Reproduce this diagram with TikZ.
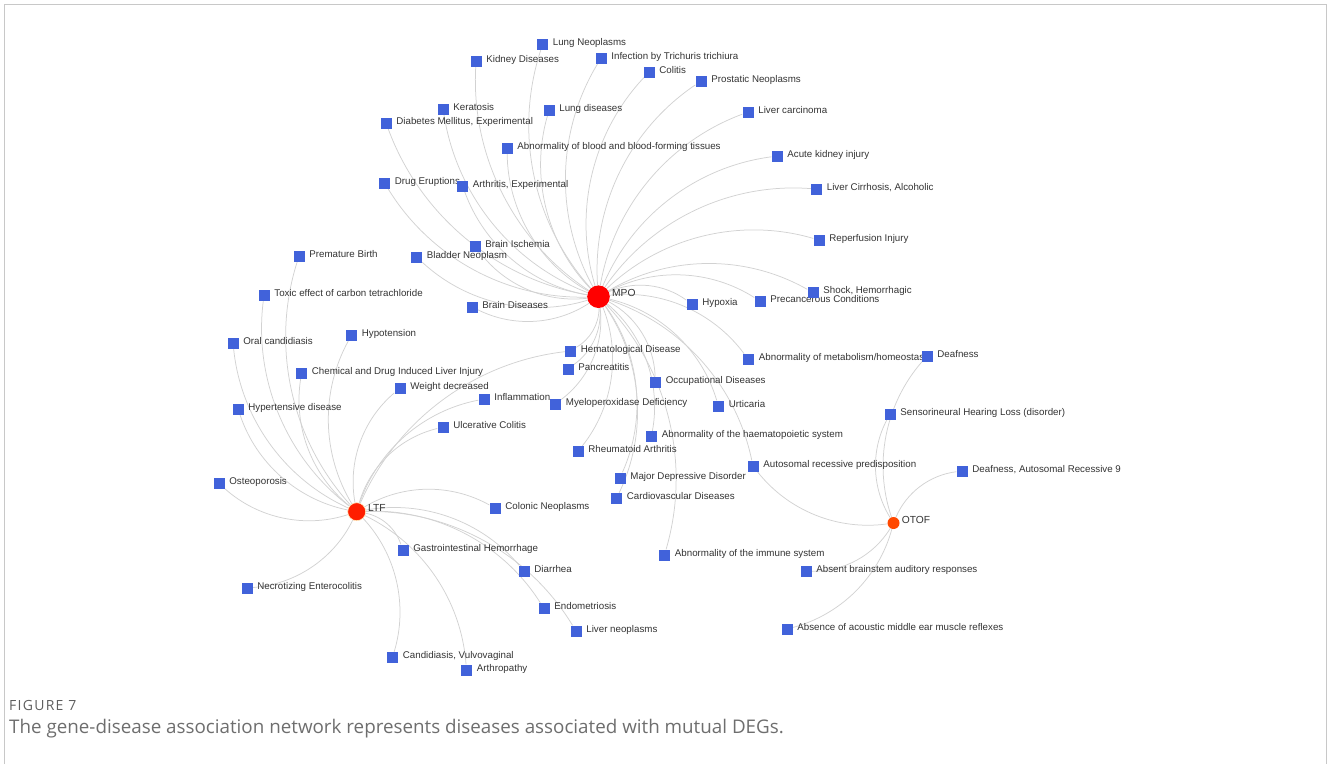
\documentclass[tikz,border=0pt]{standalone}
\usepackage{fontspec}
\setmainfont{Liberation Sans}
\newfontfamily\capfont{Open Sans}
\newfontfamily\fignofont[LetterSpace=9]{Open Sans}
\usetikzlibrary{backgrounds}
\definecolor{disblue}{RGB}{65,98,218}
\definecolor{ltfred}{RGB}{255,30,0}
\definecolor{otofred}{RGB}{255,72,0}
\definecolor{linkgrey}{RGB}{210,210,210}
\definecolor{labgrey}{RGB}{51,51,51}
\definecolor{framegrey}{RGB}{200,200,200}
\definecolor{capgrey}{RGB}{110,110,110}

\begin{document}
\begin{tikzpicture}[x=1pt,y=-1pt,
        dis/.style={rectangle,fill=disblue,minimum size=11pt,inner sep=0pt},
        gene/.style={circle,inner sep=0pt},
        lab/.style={text=labgrey,font=\fontsize{9.75}{12}\selectfont,inner sep=0pt,anchor=base west,label distance=4.5pt,yshift=-1pt},
        glab/.style={text=labgrey,font=\fontsize{10.25}{12}\selectfont,inner sep=0pt,anchor=base west,label distance=2pt},
        link/.style={draw=linkgrey,line width=0.75pt,looseness=0.91}
      ]
      \useasboundingbox (0,0) rectangle (1328,764);
      \draw[framegrey,line width=1pt] (4.5,764) -- (4.5,4.5) -- (1326.5,4.5) -- (1326.5,764);

      \node[gene,fill=red,minimum size=22.6pt,label={[glab]right:MPO}] (mpo) at (598.5,296.7) {};
      \node[gene,fill=ltfred,minimum size=18pt,draw={rgb,255:red,255;green,238;blue,190},line width=0.6pt,label={[glab]right:LTF}] (ltf) at (356.7,511.7) {};
      \node[gene,fill=otofred,minimum size=12pt,label={[glab]right:OTOF}] (otof) at (893.5,523) {};

      \node[dis,label={[lab]right:Lung Neoplasms}] (lungneo) at (542.5,44.5) {};
      \node[dis,label={[lab]right:Kidney Diseases}] (kidney) at (476,61) {};
      \node[dis,label={[lab]right:Infection by Trichuris trichiura}] (trichuris) at (601,58) {};
      \node[dis,label={[lab]right:Colitis}] (colitis) at (649,72) {};
      \node[dis,label={[lab]right:Prostatic Neoplasms}] (prostatic) at (701,81) {};
      \node[dis,label={[lab]right:Keratosis}] (keratosis) at (443,109) {};
      \node[dis,label={[lab]right:Lung diseases}] (lungdis) at (549,110) {};
      \node[dis,label={[lab]right:{Diabetes Mellitus, Experimental}}] (diabetes) at (386,123) {};
      \node[dis,label={[lab]right:Liver carcinoma}] (livercarc) at (748,112) {};
      \node[dis,label={[lab]right:Abnormality of blood and blood-forming tissues}] (blood) at (507,148) {};
      \node[dis,label={[lab]right:Acute kidney injury}] (kidneyinj) at (777,156) {};
      \node[dis,label={[lab]right:Drug Eruptions}] (drugerup) at (384.5,183) {};
      \node[dis,label={[lab]right:{Arthritis, Experimental}}] (arthritis) at (462.5,186) {};
      \node[dis,label={[lab]right:{Liver Cirrhosis, Alcoholic}}] (cirrhosis) at (816.5,189) {};
      \node[dis,label={[lab]right:Reperfusion Injury}] (reperf) at (819,240) {};
      \node[dis,label={[lab]right:Bladder Neoplasm}] (bladder) at (416.5,257) {};
      \node[dis,label={[lab]right:Brain Ischemia}] (ischemia) at (475,246) {};
      \node[dis,label={[lab]right:Precancerous Conditions}] (precanc) at (760,301) {};
      \node[dis,label={[lab]right:{Shock, Hemorrhagic}}] (shock) at (813,292.5) {};
      \node[dis,label={[lab]right:Hypoxia}] (hypoxia) at (692,304) {};
      \node[dis,label={[lab]right:Brain Diseases}] (braindis) at (472,307) {};
      \node[dis,label={[lab]right:Hematological Disease}] (hemato) at (570.5,351) {};
      \node[dis,label={[lab]right:Abnormality of metabolism/homeostasis}] (metab) at (748.5,359.5) {};
      \node[dis,label={[lab]right:Pancreatitis}] (pancreat) at (568,369) {};
      \node[dis,label={[lab]right:Occupational Diseases}] (occup) at (655.5,382) {};
      \node[dis,label={[lab]right:Myeloperoxidase Deficiency}] (mpodef) at (555.5,404) {};
      \node[dis,label={[lab]right:Urticaria}] (urtic) at (718.5,406) {};
      \node[dis,label={[lab]right:Abnormality of the haematopoietic system}] (haemato) at (651.5,436.5) {};
      \node[dis,label={[lab]right:Rheumatoid Arthritis}] (rheum) at (578,451.5) {};
      \node[dis,label={[lab]right:Autosomal recessive predisposition}] (autorec) at (753,466) {};
      \node[dis,label={[lab]right:Major Depressive Disorder}] (depress) at (620,478) {};
      \node[dis,label={[lab]right:Cardiovascular Diseases}] (cardio) at (616.5,498.5) {};
      \node[dis,label={[lab]right:Abnormality of the immune system}] (immune) at (664.5,555) {};

      \node[dis,label={[lab]right:Premature Birth}] (premature) at (299,256) {};
      \node[dis,label={[lab]right:Toxic effect of carbon tetrachloride}] (toxic) at (264,295) {};
      \node[dis,label={[lab]right:Hypotension}] (hypotens) at (351.5,335) {};
      \node[dis,label={[lab]right:Oral candidiasis}] (oralcand) at (233,343) {};
      \node[dis,label={[lab]right:Chemical and Drug Induced Liver Injury}] (chemliver) at (301.5,373) {};
      \node[dis,label={[lab]right:Weight decreased}] (weight) at (400,388) {};
      \node[dis,label={[lab]right:Inflammation}] (inflam) at (484,399) {};
      \node[dis,label={[lab]right:Hypertensive disease}] (hypertens) at (238,409) {};
      \node[dis,label={[lab]right:Ulcerative Colitis}] (ulcol) at (443,427) {};
      \node[dis,label={[lab]right:Osteoporosis}] (osteo) at (219,483.5) {};
      \node[dis,label={[lab]right:Colonic Neoplasms}] (colonic) at (495,508) {};
      \node[dis,label={[lab]right:Gastrointestinal Hemorrhage}] (gihem) at (403,550) {};
      \node[dis,label={[lab]right:Necrotizing Enterocolitis}] (necro) at (247,588) {};
      \node[dis,label={[lab]right:Diarrhea}] (diarrhea) at (524,571) {};
      \node[dis,label={[lab]right:Endometriosis}] (endomet) at (544,608.5) {};
      \node[dis,label={[lab]right:Liver neoplasms}] (liverneo) at (576,631) {};
      \node[dis,label={[lab]right:{Candidiasis, Vulvovaginal}}] (candvulv) at (392.5,657.5) {};
      \node[dis,label={[lab]right:Arthropathy}] (arthropathy) at (466.5,670) {};

      \node[dis,label={[lab]right:Deafness}] (deafness) at (927,356) {};
      \node[dis,label={[lab]right:Sensorineural Hearing Loss (disorder)}] (sensorin) at (890,414) {};
      \node[dis,label={[lab]right:{Deafness, Autosomal Recessive 9}}] (deafar) at (962,471) {};
      \node[dis,label={[lab]right:Absent brainstem auditory responses}] (brainstem) at (806,571) {};
      \node[dis,label={[lab]right:Absence of acoustic middle ear muscle reflexes}] (acoustic) at (787,629) {};

      \begin{scope}[on background layer]
        \foreach \d in {lungneo,kidney,trichuris,colitis,prostatic,keratosis,lungdis,diabetes,livercarc,blood,kidneyinj,drugerup,arthritis,cirrhosis,reperf,bladder,ischemia,precanc,shock,hypoxia,braindis,hemato,metab,pancreat,occup,mpodef,urtic,haemato,rheum,autorec,depress,cardio,immune}
          \draw[link] (mpo) to[bend left=30] (\d);
        \foreach \d in {premature,toxic,hypotens,oralcand,chemliver,weight,inflam,hypertens,ulcol,hemato,osteo,colonic,gihem,necro,diarrhea,endomet,liverneo,candvulv,arthropathy}
          \draw[link] (ltf) to[bend left=30] (\d);
        \foreach \d in {deafness,sensorin,deafar,brainstem,acoustic,autorec}
          \draw[link] (otof) to[bend left=30] (\d);
      \end{scope}

      \node[anchor=base west,inner sep=0pt,text=capgrey!85!black,font=\fignofont\fontsize{14}{16}\selectfont] (figno) at (9,710) {FIGURE 7};
      \node[anchor=base west,inner sep=0pt,text=capgrey,font=\capfont\fontsize{18.8}{22}\selectfont] (caption) at (9,733.5) {The gene-disease association network represents diseases associated with mutual DEGs.};
    \end{tikzpicture}
\end{document}
